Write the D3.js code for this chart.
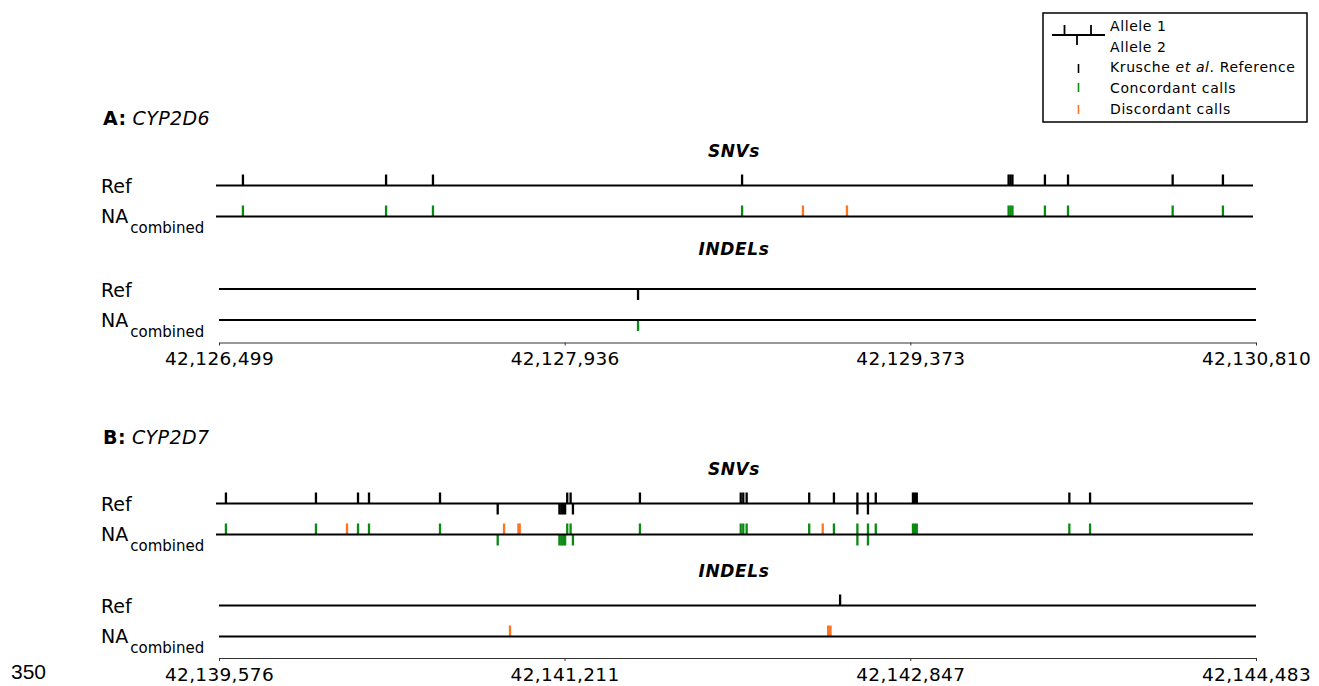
<!DOCTYPE html>
<html><head><meta charset="utf-8">
<script src="https://cdn.jsdelivr.net/npm/d3@7"></script>
<style>
body{margin:0;background:#fff}
svg{display:block}
text{font-family:"DejaVu Sans",Verdana,sans-serif;fill:#000}
</style>
</head><body>
<svg id="c" width="1319" height="686"></svg>
<script>
// ---------- DATA ----------
const panelLetters = ["A", "B"];
const geneNames = ["CYP2D6", "CYP2D7"];
const trackLabels = ["Ref", "NA"];
const sectionTitles = ["SNVs", "INDELs"];

const domainA = [42126499, 42130810];
const ticksA = [42126499, 42127936, 42129373, 42130810];
const domainB = [42139576, 42144483];
const ticksB = [42139576, 42141211, 42142847, 42144483];

// allele: 1 = above line, 2 = below line, 3 = both alleles
const snvRefA = [
  {pos: 42126611, allele: 1}, {pos: 42127206, allele: 1}, {pos: 42127401, allele: 1},
  {pos: 42128686, allele: 1}, {pos: 42129794, allele: 1}, {pos: 42129802, allele: 1},
  {pos: 42129810, allele: 1}, {pos: 42129945, allele: 1}, {pos: 42130041, allele: 1},
  {pos: 42130476, allele: 1}, {pos: 42130685, allele: 1}
];
const snvNaA = [
  {pos: 42126611, allele: 1, call: "c"}, {pos: 42127206, allele: 1, call: "c"},
  {pos: 42127401, allele: 1, call: "c"}, {pos: 42128686, allele: 1, call: "c"},
  {pos: 42128939, allele: 1, call: "d"}, {pos: 42129122, allele: 1, call: "d"},
  {pos: 42129794, allele: 1, call: "c"}, {pos: 42129802, allele: 1, call: "c"},
  {pos: 42129810, allele: 1, call: "c"}, {pos: 42129945, allele: 1, call: "c"},
  {pos: 42130041, allele: 1, call: "c"}, {pos: 42130476, allele: 1, call: "c"},
  {pos: 42130685, allele: 1, call: "c"}
];
const indelRefA = [{pos: 42128241, allele: 2, len: 1}];
const indelNaA = [{pos: 42128241, allele: 2, len: 1, call: "c"}];

const snvRefB = [
  {pos: 42139623, allele: 1}, {pos: 42140049, allele: 1}, {pos: 42140248, allele: 1},
  {pos: 42140300, allele: 1}, {pos: 42140636, allele: 1}, {pos: 42140909, allele: 2},
  {pos: 42141201, allele: 2}, {pos: 42141210, allele: 2}, {pos: 42141219, allele: 2},
  {pos: 42141228, allele: 2}, {pos: 42141238, allele: 1}, {pos: 42141254, allele: 1},
  {pos: 42141265, allele: 2}, {pos: 42141582, allele: 1}, {pos: 42142059, allele: 1},
  {pos: 42142071, allele: 1}, {pos: 42142087, allele: 1}, {pos: 42142383, allele: 1},
  {pos: 42142500, allele: 1}, {pos: 42142611, allele: 3}, {pos: 42142661, allele: 3},
  {pos: 42142698, allele: 1}, {pos: 42142874, allele: 1}, {pos: 42142883, allele: 1},
  {pos: 42142892, allele: 1}, {pos: 42143614, allele: 1}, {pos: 42143712, allele: 1}
];
const snvNaBDiscordant = [
  {pos: 42140196, allele: 1, call: "d"}, {pos: 42140939, allele: 1, call: "d"},
  {pos: 42141007, allele: 1, call: "d"}, {pos: 42141013, allele: 1, call: "d"},
  {pos: 42142447, allele: 1, call: "d"}
];
const snvNaB = snvRefB.map(d => ({pos: d.pos, allele: d.allele, call: "c"})).concat(snvNaBDiscordant);
const indelRefB = [{pos: 42142515, allele: 1, len: 1}];
const indelNaB = [
  {pos: 42140953, allele: 1, len: 1, call: "d"},
  {pos: 42142453, allele: 1, len: 22, call: "d"}
];

const legendItems = ["Allele 1", "Allele 2", "Krusche et al. Reference", "Concordant calls", "Discordant calls"];
const pageNumber = "350";

// ---------- DRAW ----------
const svg = d3.select("#c");
const colors = {ref: "#000000", c: "#0b8a12", d: "#ff7420"};
const FONT = '"DejaVu Sans",Verdana,sans-serif';

const panels = [
  {letter: panelLetters[0], gene: geneNames[0], domain: domainA, ticks: ticksA,
   snvRef: snvRefA, snvNa: snvNaA, indRef: indelRefA, indNa: indelNaA,
   y: {title: 125, snvTitle: 156.7, snvRef: 185.5, snvNA: 216.5, indTitle: 255, indRef: 289, indNA: 320, axis: 342.5}},
  {letter: panelLetters[1], gene: geneNames[1], domain: domainB, ticks: ticksB,
   snvRef: snvRefB, snvNa: snvNaB, indRef: indelRefB, indNa: indelNaB,
   y: {title: 443.5, snvTitle: 474.7, snvRef: 503.5, snvNA: 534.5, indTitle: 577, indRef: 605.5, indNA: 636.5, axis: 658}}
];

const TICK_H = 11;
const MIN_W = 2.3;

function drawTrack(g, scale, lineY, marks, colorFn, labelIdx) {
  const [x0, x1] = scale.range();
  if (labelIdx === 0) {
    g.append("text").attr("x", 101).attr("y", lineY + 7.8)
      .style("font-size", "19px").text(trackLabels[0]);
  } else {
    const t = g.append("text").attr("x", 101).attr("y", lineY + 6.5).style("font-size", "19px");
    t.append("tspan").text(trackLabels[1]);
    t.append("tspan").attr("dx", 2).attr("dy", 10).style("font-size", "15px").text("combined");
  }
  const wOf = d => Math.max(MIN_W, scale(d.pos + (d.len || 1)) - scale(d.pos));
  g.selectAll(null).data(marks).enter().append("rect")
    .attr("x", d => { const w = wOf(d); return w <= MIN_W ? scale(d.pos) - w / 2 : scale(d.pos); })
    .attr("width", wOf)
    .attr("y", d => d.allele === 2 ? lineY : lineY - TICK_H)
    .attr("height", d => d.allele === 3 ? TICK_H * 2 : TICK_H)
    .attr("fill", colorFn);
  g.append("line").attr("x1", x0).attr("x2", x1).attr("y1", lineY).attr("y2", lineY)
    .attr("stroke", "#000").attr("stroke-width", 2);
}

panels.forEach(p => {
  const g = svg.append("g");
  const xSnv = d3.scaleLinear().domain(p.domain).range([216, 1253]);
  const xInd = d3.scaleLinear().domain(p.domain).range([219, 1256]);

  const tt = g.append("text").attr("x", 103).attr("y", p.y.title)
    .style("font-size", "19px").style("letter-spacing", "0.4px");
  tt.append("tspan").style("font-weight", "bold").text(p.letter + ":");
  tt.append("tspan").attr("dx", 6).style("font-style", "italic").text(p.gene);

  [[p.y.snvTitle, sectionTitles[0]], [p.y.indTitle, sectionTitles[1]]].forEach(s => {
    g.append("text").attr("x", 734).attr("y", s[0]).attr("text-anchor", "middle")
      .style("font-size", "17px").style("font-weight", "bold").style("font-style", "italic")
      .style("letter-spacing", "0.6px").text(s[1]);
  });

  drawTrack(g, xSnv, p.y.snvRef, p.snvRef, () => colors.ref, 0);
  drawTrack(g, xSnv, p.y.snvNA, p.snvNa, d => colors[d.call], 1);
  drawTrack(g, xInd, p.y.indRef, p.indRef, () => colors.ref, 0);
  drawTrack(g, xInd, p.y.indNA, p.indNa, d => colors[d.call], 1);

  const ax = g.append("g").attr("transform", `translate(0,${p.y.axis})`)
    .call(d3.axisBottom(xInd).tickValues(p.ticks).tickFormat(d3.format(",")).tickSize(3).tickSizeOuter(0));
  ax.select(".domain").attr("stroke", "#333").attr("stroke-width", 1);
  ax.selectAll(".tick line").attr("stroke", "#333");
  ax.selectAll(".tick text").attr("y", 22.5).attr("dy", 0)
    .style("font-family", FONT).style("font-size", "18.5px").style("letter-spacing", "0.3px").attr("fill", "#111");
});

// legend
const lg = svg.append("g");
lg.append("rect").attr("x", 1043).attr("y", 13).attr("width", 264).attr("height", 109)
  .attr("fill", "#fff").attr("stroke", "#000").attr("stroke-width", 1.5);
lg.append("line").attr("x1", 1052).attr("x2", 1105).attr("y1", 35).attr("y2", 35)
  .attr("stroke", "#000").attr("stroke-width", 2);
[[1064.5, 25, 35], [1091, 25, 35], [1077, 35, 45]].forEach(s => {
  lg.append("line").attr("x1", s[0]).attr("x2", s[0]).attr("y1", s[1]).attr("y2", s[2])
    .attr("stroke", "#000").attr("stroke-width", 1.8);
});
[["#000", 64, 73], [colors.c, 83, 92], [colors.d, 105, 114]].forEach(s => {
  lg.append("line").attr("x1", 1078.5).attr("x2", 1078.5).attr("y1", s[1]).attr("y2", s[2])
    .attr("stroke", s[0]).attr("stroke-width", 1.6);
});
const legY = [30.7, 51.7, 71.7, 93.3, 114];
legendItems.forEach((t, i) => {
  const tx = lg.append("text").attr("x", 1110).attr("y", legY[i])
    .style("font-size", "14px").style("letter-spacing", "0.6px");
  if (i === 2) {
    tx.append("tspan").text("Krusche ");
    tx.append("tspan").style("font-style", "italic").text("et al");
    tx.append("tspan").text(". Reference");
  } else {
    tx.text(t);
  }
});

// page number fragment
svg.append("text").attr("x", 11).attr("y", 679)
  .style("font-family", '"Liberation Sans Narrow","Liberation Sans",Arial,sans-serif')
  .style("font-size", "21px").attr("fill", "#111").text(pageNumber);
</script>
</body></html>
